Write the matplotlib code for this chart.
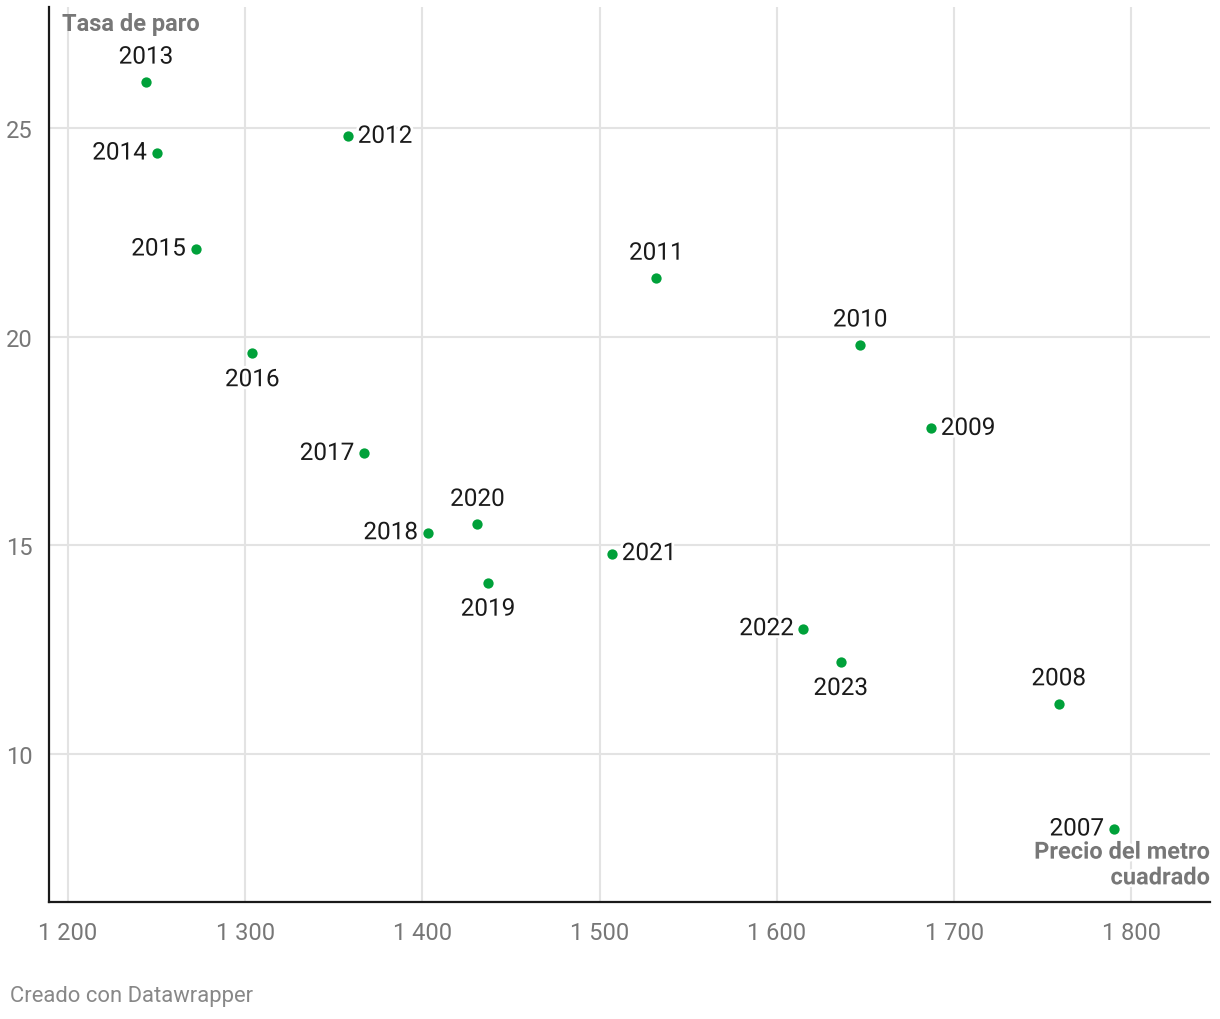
import matplotlib.pyplot as plt
import matplotlib.patheffects as pe
from matplotlib.ticker import FuncFormatter

plt.rcParams['font.family'] = ['Roboto', 'DejaVu Sans']

years = [2007, 2008, 2009, 2010, 2011, 2012, 2013, 2014, 2015,
         2016, 2017, 2018, 2019, 2020, 2021, 2022, 2023]
precio = [1790, 1759, 1687, 1647, 1532, 1358, 1244, 1250, 1272,
          1304, 1367, 1403, 1437, 1431, 1507, 1615, 1636]
paro = [8.2, 11.2, 17.8, 19.8, 21.4, 24.8, 26.1, 24.4, 22.1,
        19.6, 17.2, 15.3, 14.1, 15.5, 14.8, 13.0, 12.2]

x_ticks = [1200, 1300, 1400, 1500, 1600, 1700, 1800]
y_ticks = [10, 15, 20, 25]

# where each year label goes relative to its dot
label_side = {
    2007: 'left', 2008: 'above', 2009: 'right', 2010: 'above', 2011: 'above',
    2012: 'right', 2013: 'above', 2014: 'left', 2015: 'left', 2016: 'below',
    2017: 'left', 2018: 'left', 2019: 'below', 2020: 'above', 2021: 'right',
    2022: 'left', 2023: 'below',
}

green = '#00a13a'
grey = '#777777'

fig = plt.figure(figsize=(12.2, 10.2), dpi=100)
ax = fig.add_axes([49 / 1220, 1 - 903 / 1020, (1210 - 49) / 1220, (903 - 8) / 1020])

ax.set_xlim(1189.3, 1844.4)
ax.set_ylim(6.45, 27.9)
ax.set_xticks(x_ticks)
ax.set_yticks(y_ticks)
ax.xaxis.set_major_formatter(FuncFormatter(lambda v, p: f'{int(v):,}'.replace(',', ' ')))
ax.grid(True, color='#e3e3e3', linewidth=1.5)
ax.set_axisbelow(True)
ax.tick_params(length=0, labelsize=17, labelcolor=grey, pad=14)
ax.tick_params(axis='y', pad=12)

for s in ['top', 'right']:
    ax.spines[s].set_visible(False)
for s in ['left', 'bottom']:
    ax.spines[s].set_linewidth(1.6)
    ax.spines[s].set_color('#1a1a1a')

ax.scatter(precio, paro, s=55, color=green, zorder=3, linewidths=0)

offsets = {
    'above': ((0, 18), 'center'),
    'below': ((0, -19), 'center'),
    'left': ((-7, 0), 'right'),
    'right': ((7, 0), 'left'),
}
halo = [pe.withStroke(linewidth=4, foreground='white')]
for yr, xv, yv in zip(years, precio, paro):
    off, ha = offsets[label_side[yr]]
    ax.annotate(str(yr), (xv, yv), xytext=off, textcoords='offset points',
                ha=ha, va='center', fontsize=17.5, color='#1a1a1a',
                path_effects=halo, zorder=4)

fig.text(62 / 1220, 1 - 24 / 1020, 'Tasa de paro', fontsize=17, fontweight='bold',
         color=grey, ha='left', va='center')
fig.text(1210 / 1220, 1 - 866 / 1020, 'Precio del metro\ncuadrado', fontsize=17,
         fontweight='bold', color=grey, ha='right', va='center', linespacing=1.15,
         path_effects=halo)
fig.text(10 / 1220, 1 - 997 / 1020, 'Creado con Datawrapper', fontsize=15.8,
         color='#888888', ha='left', va='center')

fig.savefig('out.png', dpi=100)
